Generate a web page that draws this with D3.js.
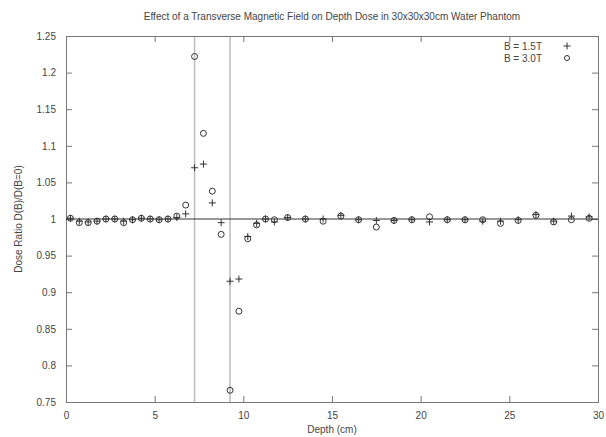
<!DOCTYPE html>
<html>
<head>
<meta charset="utf-8">
<script src="https://cdn.jsdelivr.net/npm/d3@7"></script>
<style>
  body { margin: 0; background: #fff; }
  svg text { font-family: "Liberation Sans", Arial, sans-serif; fill: #444; }
</style>
</head>
<body>
<div id="chart"></div>
<script>
const width = 606;
const height = 437;

// depth (cm) for each measured point
const depths = [0.25, 0.75, 1.25, 1.75, 2.25, 2.75, 3.25, 3.75, 4.25, 4.75, 5.25, 5.75, 6.25, 6.75,
  7.25, 7.75, 8.25, 8.75, 9.25, 9.75, 10.25, 10.75, 11.25, 11.75, 12.5,
  13.5, 14.5, 15.5, 16.5, 17.5, 18.5, 19.5, 20.5, 21.5, 22.5, 23.5, 24.5, 25.5, 26.5, 27.5, 28.5, 29.5];
const ratio15 = [1.001, 0.997, 0.996, 0.997, 1.0, 1.0, 0.997, 0.999, 1.001, 1.0, 0.999, 1.0, 1.002, 1.007,
  1.07, 1.075, 1.022, 0.995, 0.915, 0.918, 0.976, 0.994, 1.0, 0.996, 1.002,
  1.0, 1.0, 1.005, 0.999, 0.998, 0.998, 0.999, 0.996, 0.999, 0.999, 0.997, 0.997, 0.999, 1.006, 0.997, 1.004, 1.003];
const ratio30 = [1.001, 0.995, 0.995, 0.997, 1.0, 1.0, 0.995, 0.999, 1.001, 1.0, 0.999, 1.0, 1.004, 1.019,
  1.222, 1.117, 1.038, 0.979, 0.766, 0.874, 0.973, 0.992, 1.0, 0.999, 1.002,
  1.0, 0.997, 1.004, 0.999, 0.989, 0.998, 0.999, 1.003, 0.999, 0.999, 0.999, 0.994, 0.998, 1.005, 0.996, 0.999, 1.001];
const markerLines = [7.25, 9.25];
const xTicks = [0, 5, 10, 15, 20, 25, 30];
const yTicks = [0.75, 0.8, 0.85, 0.9, 0.95, 1, 1.05, 1.1, 1.15, 1.2, 1.25];
const legendLabels = ['B = 1.5T', 'B = 3.0T'];

const margin = {top: 36, right: 8, bottom: 35, left: 66};
const plotW = width - margin.left - margin.right;
const plotH = height - margin.top - margin.bottom;

const x = d3.scaleLinear().domain([0, 30]).range([0, plotW]);
const y = d3.scaleLinear().domain([0.75, 1.25]).range([plotH, 0]);

const svg = d3.select('#chart').append('svg')
  .attr('width', width).attr('height', height);

svg.append('text')
  .attr('x', margin.left + plotW / 2).attr('y', 20)
  .attr('text-anchor', 'middle')
  .style('font-size', '10px')
  .text('Effect of a Transverse Magnetic Field on Depth Dose in 30x30x30cm Water Phantom');

const g = svg.append('g').attr('transform', `translate(${margin.left},${margin.top})`);

// interface lines (drawn first so the frame and points sit on top)
g.selectAll('.interface')
  .data(markerLines)
  .enter()
  .append('line')
  .attr('class', 'interface')
  .attr('x1', (d) => x(d)).attr('x2', (d) => x(d))
  .attr('y1', 0).attr('y2', plotH)
  .attr('stroke', '#bbb').attr('stroke-width', 1.5);

// axes with gnuplot-style inward ticks, mirrored on top/right
const tickLen = 6;
g.append('g').attr('class', 'x-axis')
  .attr('transform', `translate(0,${plotH})`)
  .call(d3.axisBottom(x).tickValues(xTicks).tickSize(-tickLen).tickPadding(10).tickFormat(d3.format('d')));
g.append('g').attr('class', 'x-top')
  .call(d3.axisTop(x).tickValues(xTicks).tickSize(-tickLen).tickFormat(''));
g.append('g').attr('class', 'y-axis')
  .call(d3.axisLeft(y).tickValues(yTicks).tickSize(-tickLen).tickPadding(10).tickFormat(d3.format('')));
g.append('g').attr('class', 'y-right')
  .attr('transform', `translate(${plotW},0)`)
  .call(d3.axisRight(y).tickValues(yTicks).tickSize(-tickLen).tickFormat(''));

g.selectAll('.domain').attr('stroke', '#777');
g.selectAll('.tick line').attr('stroke', '#777');
g.selectAll('.tick text').style('font-size', '10px').attr('fill', '#444')
  .style('font-family', '"Liberation Sans", Arial, sans-serif');

// reference line at ratio 1
g.append('line')
  .attr('x1', 0).attr('x2', plotW)
  .attr('y1', y(1)).attr('y2', y(1))
  .attr('stroke', '#333').attr('stroke-width', 1);

const pts15 = depths.map((d, i) => ({depth: d, value: ratio15[i]}));
const pts30 = depths.map((d, i) => ({depth: d, value: ratio30[i]}));

const plus = (sel) => sel.append('path')
  .attr('d', 'M-3.5,0H3.5M0,-3.5V3.5')
  .attr('stroke', '#333').attr('stroke-width', 1).attr('fill', 'none');

g.selectAll('.p15')
  .data(pts15)
  .enter()
  .append('g')
  .attr('class', 'p15')
  .attr('transform', (d) => `translate(${x(d.depth)},${y(d.value)})`)
  .call(plus);

g.selectAll('.p30')
  .data(pts30)
  .enter()
  .append('circle')
  .attr('class', 'p30')
  .attr('cx', (d) => x(d.depth))
  .attr('cy', (d) => y(d.value))
  .attr('r', 3)
  .attr('fill', 'none')
  .attr('stroke', '#333')
  .attr('stroke-width', 1);

// legend
const legend = svg.append('g');
legendLabels.forEach((lab, i) => {
  const ly = 46 + i * 12;
  legend.append('text')
    .attr('x', 542).attr('y', ly + 4)
    .attr('text-anchor', 'end')
    .style('font-size', '10px')
    .text(lab);
  const mk = legend.append('g').attr('transform', `translate(567,${ly})`);
  if (i === 0) {
    plus(mk);
  } else {
    mk.append('circle').attr('r', 2.5).attr('fill', 'none').attr('stroke', '#333');
  }
});

svg.append('text')
  .attr('x', margin.left + plotW / 2).attr('y', height - 4)
  .attr('text-anchor', 'middle')
  .style('font-size', '10px')
  .text('Depth (cm)');

svg.append('text')
  .attr('transform', `translate(22,${margin.top + plotH / 2}) rotate(-90)`)
  .attr('text-anchor', 'middle')
  .style('font-size', '10px')
  .text('Dose Ratio D(B)/D(B=0)');
</script>
</body>
</html>
